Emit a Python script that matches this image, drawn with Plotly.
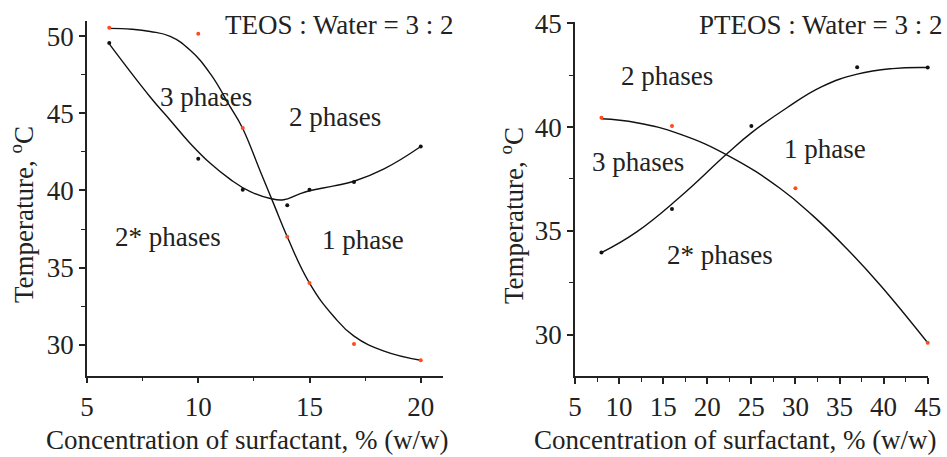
import plotly.graph_objects as go

FONT = "Liberation Serif"

# ---- Left panel: TEOS : Water = 3 : 2 ----
teos_conc = [6, 10, 12, 14, 15, 17, 20]
teos_red = [50.55, 50.15, 44.05, 37.0, 34.0, 30.05, 29.0]
teos_black = [49.55, 42.05, 40.05, 39.05, 40.05, 40.55, 42.85]

teos_red_curve_x = [6, 7, 7.84, 8.74, 9.64, 10.54, 11.44, 11.97, 12.8, 13.4, 14.0, 15, 16.08, 17, 18.35, 20]
teos_red_curve_y = [50.5, 50.45, 50.3, 49.98, 49.08, 47.57, 45.41, 44.1, 41.2, 39.1, 37.0, 34.0, 31.85, 30.56, 29.59, 29.0]
teos_black_curve_x = [6, 7.84, 8.74, 9.64, 10.54, 11.44, 12.34, 13.24, 13.84, 14.45, 15, 16.1, 17, 18.35, 20]
teos_black_curve_y = [49.5, 46.06, 44.55, 43.05, 41.76, 40.72, 39.92, 39.48, 39.4, 39.72, 39.98, 40.3, 40.6, 41.4, 42.85]

# ---- Right panel: PTEOS : Water = 3 : 2 ----
pteos_red_x = [8, 16, 30, 45]
pteos_red = [40.45, 40.05, 37.05, 29.6]
pteos_black_x = [8, 16, 25, 37, 45]
pteos_black = [33.95, 36.05, 40.05, 42.88, 42.87]

pteos_red_curve_x = [8, 12, 16.9, 22.57, 28.24, 32, 35.8, 39.58, 45]
pteos_red_curve_y = [40.4, 40.21, 39.66, 38.58, 37.05, 35.72, 34.15, 32.4, 29.6]
pteos_black_curve_x = [8, 12, 16.9, 22.2, 25, 29, 33, 37, 41, 45]
pteos_black_curve_y = [33.95, 34.95, 36.63, 38.7, 39.72, 40.92, 41.95, 42.55, 42.82, 42.87]

RED = "#FF4A1C"
BLACK = "#111111"

fig = go.Figure()

def add_curve(x, y, xa, ya):
    fig.add_trace(go.Scatter(x=x, y=y, mode="lines", line=dict(color=BLACK, width=1.4, shape="spline", smoothing=1.3),
                             xaxis=xa, yaxis=ya, showlegend=False, hoverinfo="skip", cliponaxis=False))

def add_pts(x, y, color, xa, ya):
    fig.add_trace(go.Scatter(x=x, y=y, mode="markers", marker=dict(color=color, size=4),
                             xaxis=xa, yaxis=ya, showlegend=False, cliponaxis=False))

add_curve(teos_red_curve_x, teos_red_curve_y, "x", "y")
add_curve(teos_black_curve_x, teos_black_curve_y, "x", "y")
add_pts(teos_conc, teos_red, RED, "x", "y")
add_pts(teos_conc, teos_black, BLACK, "x", "y")

add_curve(pteos_red_curve_x, pteos_red_curve_y, "x2", "y2")
add_curve(pteos_black_curve_x, pteos_black_curve_y, "x2", "y2")
add_pts(pteos_red_x, pteos_red, RED, "x2", "y2")
add_pts(pteos_black_x, pteos_black, BLACK, "x2", "y2")

W, H = 947, 457
FS = 27
tickfont = dict(family=FONT, size=FS, color="#222")

def axis(domain, rng, dtick, anchor, tick0):
    return dict(domain=domain, range=rng, dtick=dtick, tick0=tick0, automargin=False,
                showgrid=False, zeroline=False, showline=True, linecolor="#222", linewidth=1.5,
                ticks="outside", ticklen=6, tickwidth=1.5, tickcolor="#222",
                minor=dict(ticks="outside", ticklen=4, tickwidth=1.2, tickcolor="#222", dtick=dtick / 2, showgrid=False),
                tickfont=tickfont, anchor=anchor, fixedrange=True)

fig.update_layout(
    width=W, height=H, margin=dict(l=0, r=0, t=0, b=0, pad=0, autoexpand=False),
    paper_bgcolor="white", plot_bgcolor="white",
    xaxis=axis([87 / W, 443 / W], [5, 21], 5, "y", 5),
    yaxis=axis([(H - 375.7) / H, (H - 20.7) / H], [28, 51], 5, "x", 0),
    xaxis2=axis([575 / W, 927.7 / W], [5, 45], 5, "y2", 5),
    yaxis2=axis([(H - 376) / H, (H - 21.7) / H], [28, 45.08], 5, "x2", 0),
)

afont = dict(family=FONT, size=FS, color="#222")
labels_left = [("TEOS : Water = 3 : 2", 16.35, 50.69), ("3 phases", 10.36, 46.04), ("2 phases", 16.13, 44.73),
               ("2* phases", 8.65, 36.96), ("1 phase", 17.39, 36.76)]
labels_right = [("PTEOS : Water = 3 : 2", 32.9, 44.93), ("2 phases", 15.43, 42.47), ("3 phases", 12.14, 38.33),
                ("1 phase", 33.34, 38.95), ("2* phases", 21.44, 33.84)]
for t, x, y in labels_left:
    fig.add_annotation(text=t, x=x, y=y, xref="x", yref="y", showarrow=False, font=afont,
                       xanchor="center", yanchor="middle")
for t, x, y in labels_right:
    fig.add_annotation(text=t, x=x, y=y, xref="x2", yref="y2", showarrow=False, font=afont,
                       xanchor="center", yanchor="middle")

xtitle = "Concentration of surfactant, % (w/w)"
ytitle = "Temperature, <sup>o</sup>C"
for cx in (247, 735):
    fig.add_annotation(text=xtitle, x=cx / W, y=(H - 440) / H, xref="paper", yref="paper", showarrow=False,
                       font=afont, xanchor="center", yanchor="middle")
for cx in (22, 512):
    fig.add_annotation(text=ytitle, x=cx / W, y=(H - 215) / H, xref="paper", yref="paper", showarrow=False,
                       font=afont, textangle=-90, xanchor="center", yanchor="middle")

fig.write_html("out.html")
